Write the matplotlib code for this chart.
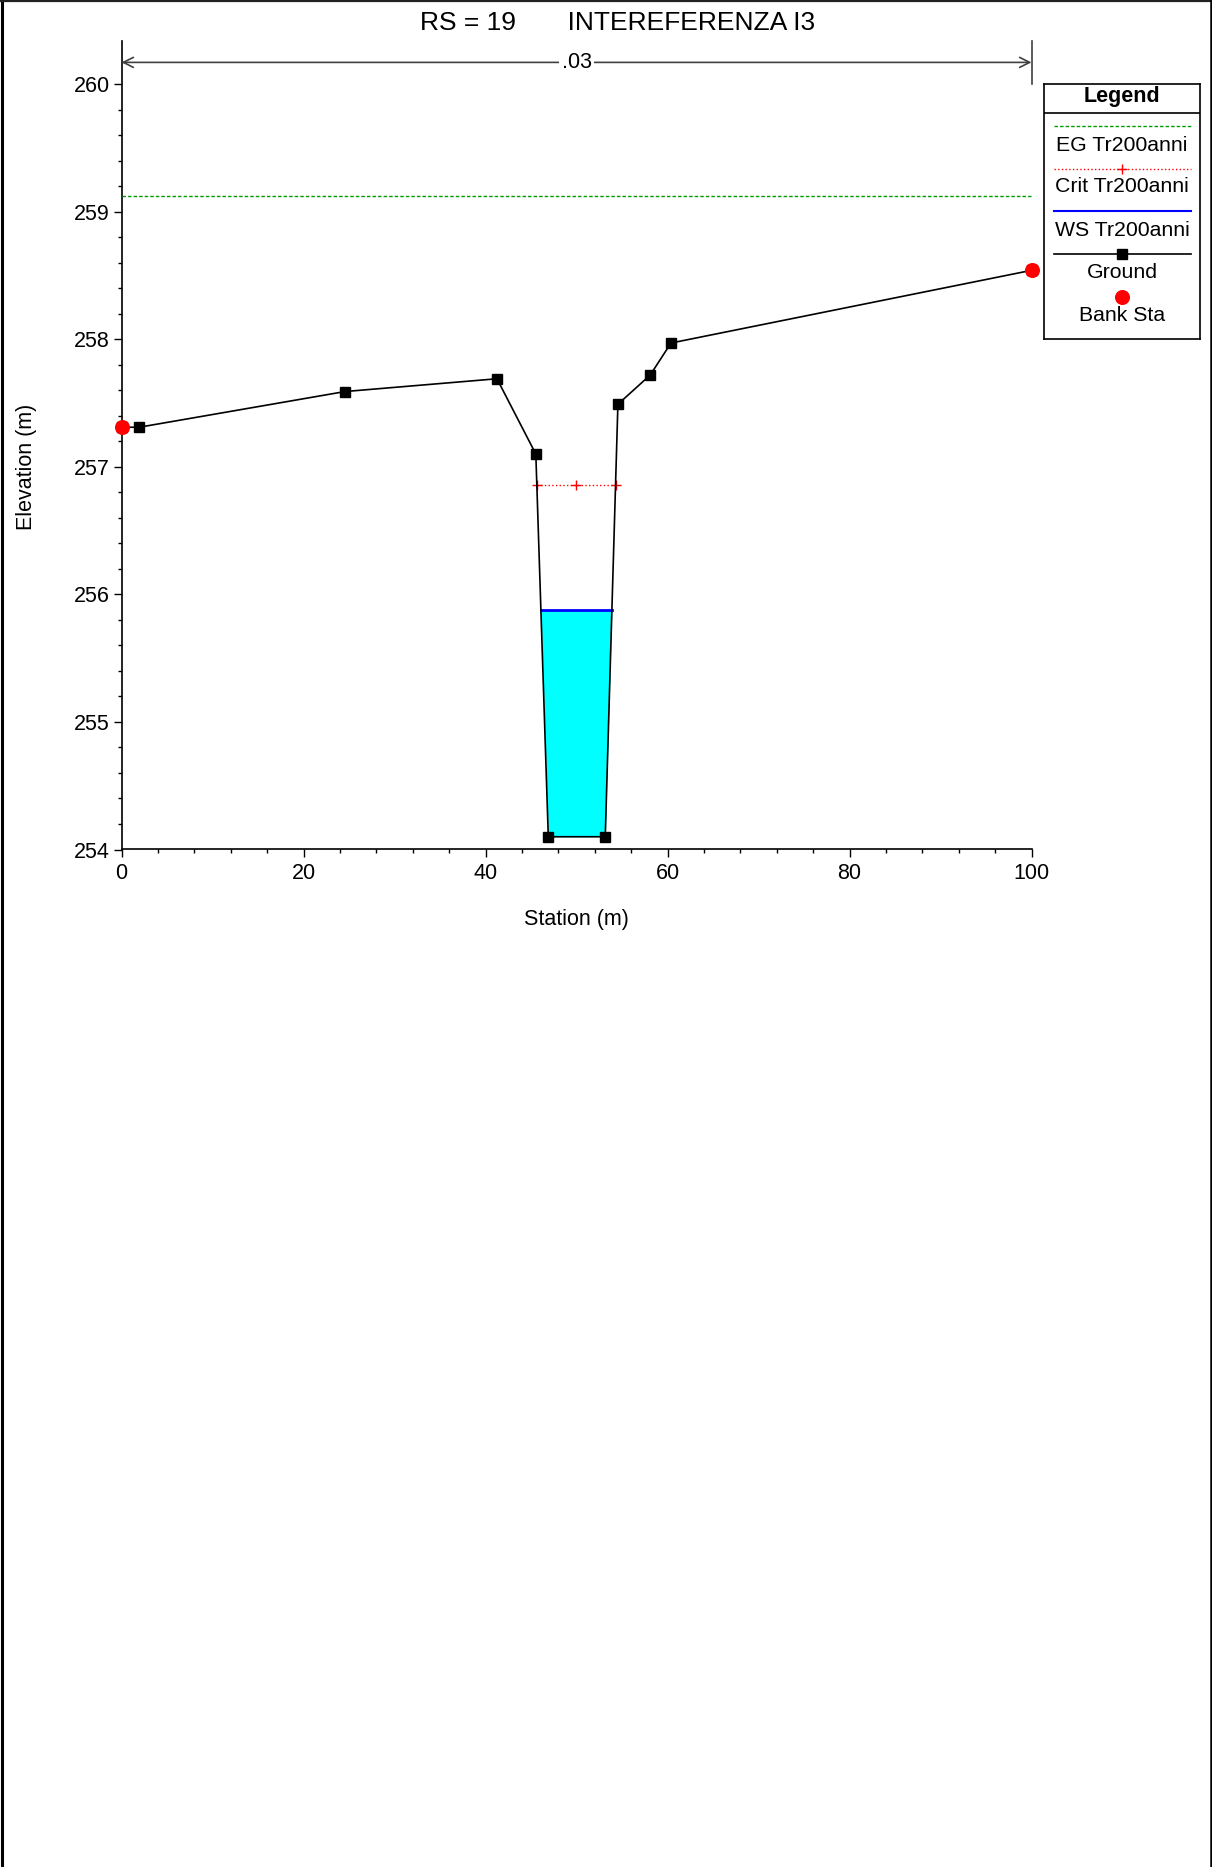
import numpy as np
import matplotlib
matplotlib.use("Agg")
import matplotlib.pyplot as plt
from matplotlib.lines import Line2D

plt.rcParams['font.family'] = ['Liberation Sans', 'DejaVu Sans']

# ground survey points (station m, elevation m)
ground_sta = [0.0, 1.94, 24.58, 41.26, 45.53, 46.90, 53.16, 54.55, 58.11, 60.38, 100.0]
ground_elev = [257.31, 257.31, 257.59, 257.69, 257.10, 254.10, 254.10, 257.49, 257.72, 257.97, 258.54]
bank_sta = [0.0, 100.0]
bank_elev = [257.31, 258.54]

eg_elev = 259.12      # EG Tr200anni
crit_elev = 256.86    # Crit Tr200anni
ws_elev = 255.88      # WS Tr200anni
channel = (45.53, 54.55)   # left / right of main channel

n_sta = [0.0, 100.0]
n_label = '.03'

title = 'RS = 19       INTEREFERENZA I3'
legend_labels = ['EG Tr200anni', 'Crit Tr200anni', 'WS Tr200anni', 'Ground', 'Bank Sta']

W, H = 1212, 1867
fig = plt.figure(figsize=(W / 100, H / 100), dpi=100)

def fx(px):
    return px / W

def fy(py):
    return 1 - py / H

ylo, yhi = 254.0, 260.34
ax = fig.add_axes([fx(121.5), fy(849.5), fx(1031.5) - fx(121.5), fy(40.7) - fy(849.5)])
ax.set_xlim(0, 100)
ax.set_ylim(ylo, yhi)

gx = np.array(ground_sta)
gy = np.array(ground_elev)


def water_edges(level):
    # where a level crosses the channel banks
    il = np.where(gx >= channel[0])[0][0]
    ir = np.where(gx <= channel[1])[0][-1]
    xl = np.interp(level, [gy[il + 1], gy[il]], [gx[il + 1], gx[il]])
    xr = np.interp(level, [gy[ir - 1], gy[ir]], [gx[ir - 1], gx[ir]])
    return xl, xr


# water fill
wl, wr = water_edges(ws_elev)
fine_x = np.linspace(wl, wr, 400)
fine_g = np.interp(fine_x, gx, gy)
ax.fill_between(fine_x, fine_g, ws_elev, where=fine_g <= ws_elev, color='#00ffff', lw=0, zorder=1)
ax.plot([wl, wr], [ws_elev, ws_elev], color='#0000ff', lw=2, zorder=3)

# critical depth
cl, cr = water_edges(crit_elev)
ax.plot([cl, (cl + cr) / 2, cr], [crit_elev] * 3, color='red', ls=':', lw=1,
        marker='+', ms=7, mew=1, zorder=3)

# energy grade
ax.plot([0, 100], [eg_elev, eg_elev], color='#009900', ls=(0, (2.5, 1.5)), lw=1, zorder=3)

# ground
ax.plot(gx, gy, color='black', lw=1.2, marker='s', ms=6.5, zorder=4, clip_on=False)
ax.plot(bank_sta, bank_elev, ls='none', marker='o', ms=9.8, color='red', mec='red',
        zorder=5, clip_on=False)

# n-value bracket
n_y = 260.17
ax.annotate('', xy=(n_sta[0], n_y), xytext=(n_sta[1], n_y),
            arrowprops=dict(arrowstyle='<->', color='#404040', lw=1.2,
                            shrinkA=0, shrinkB=0, mutation_scale=18))
ax.text(np.mean(n_sta), n_y, n_label, ha='center', va='center', fontsize=15.5,
        bbox=dict(facecolor='white', edgecolor='none', pad=1.5))
ax.plot([n_sta[1], n_sta[1]], [260.0, yhi], color='#404040', lw=1.2, clip_on=False)

# axes styling
for s in ['top', 'right']:
    ax.spines[s].set_visible(False)
for s in ['left', 'bottom']:
    ax.spines[s].set_linewidth(1.2)
ax.set_xticks(np.arange(0, 101, 20))
ax.set_xticks(np.arange(0, 101, 4), minor=True)
ax.set_yticks(np.arange(254, 260.5, 1))
ax.set_yticks(np.arange(254, 260.01, 0.2), minor=True)
ax.tick_params(which='major', length=5.5, width=1, labelsize=15.5, pad=3)
ax.tick_params(which='minor', length=3.2, width=1)
ax.tick_params(axis='x', pad=4)
ax.set_xlabel('Station (m)', fontsize=15.5, labelpad=18)
ax.text(-0.104, 257.0, 'Elevation (m)', rotation=90, ha='center', va='center', fontsize=15.5,
        transform=ax.get_yaxis_transform())

# title
fig.text(fx(618), fy(23), title, ha='center', va='center', fontsize=19)

# legend box
lx0, lx1, ly0, ly1 = 1043.8, 1200.3, 83.7, 339.3
lax = fig.add_axes([fx(lx0), fy(ly1), fx(lx1) - fx(lx0), fy(ly0) - fy(ly1)])
lax.set_xlim(lx0, lx1)
lax.set_ylim(ly1, ly0)
lax.set_xticks([])
lax.set_yticks([])
for s in lax.spines.values():
    s.set_linewidth(1.2)
lax.axhline(113.3, color='black', lw=1.2)
lax.text((lx0 + lx1) / 2, 96.5, 'Legend', ha='center', va='center', fontsize=15.5, fontweight='bold')
sx = [1053.5, 1190.5]
mid = (sx[0] + sx[1]) / 2
styles = [
    dict(color='#009900', ls=(0, (2.5, 1.5)), lw=1),
    dict(color='red', ls=':', lw=1, marker='+', ms=7, markevery=[1]),
    dict(color='#0000ff', lw=1.5),
    dict(color='black', lw=1.2, marker='s', ms=6.5, markevery=[1]),
    dict(color='red', ls='none', marker='o', ms=9.8, markevery=[1]),
]
line_y = [126.0, 168.7, 211.3, 254.0, 296.7]
text_y = [145.3, 187.0, 230.0, 272.7, 315.0]
for lab, st, y1, y2 in zip(legend_labels, styles, line_y, text_y):
    lax.plot([sx[0], mid, sx[1]], [y1] * 3, **st)
    lax.text(mid, y2, lab, ha='center', va='center', fontsize=15.3)

# outer frame
fig.add_artist(Line2D([fx(1.5), fx(1.5)], [0, 1], color='black', lw=2.2))
fig.add_artist(Line2D([0, 1], [fy(1), fy(1)], color='#222222', lw=1.6))
fig.add_artist(Line2D([fx(1210.8), fx(1210.8)], [0, 1], color='black', lw=1.8))

fig.savefig('out.png', dpi=100)
